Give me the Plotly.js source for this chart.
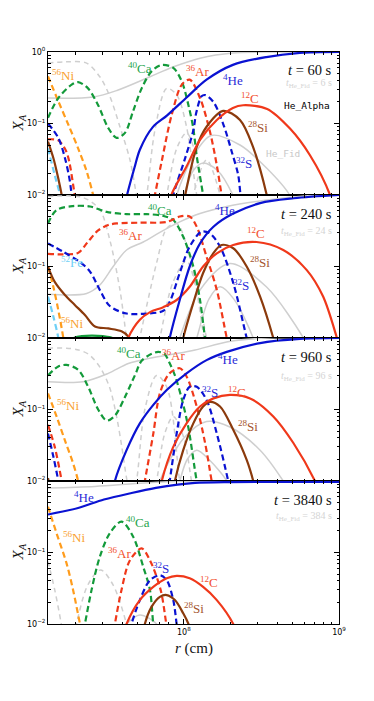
<!DOCTYPE html>
<html>
<head>
<meta charset="utf-8">
<script src="https://cdn.plot.ly/plotly-3.0.1.min.js"></script>
<style>
  html, body { margin: 0; padding: 0; background: #fff; }
  #plot { width: 374px; height: 701px; }
</style>
</head>
<body>
<div id="plot"></div>
<script>
// mass fractions X_A against radius r (cm), read off the four snapshots
// colour = He_Alpha run, grey = He_Fid run

// ---- t = 60 s ----
var r_He_60 = [4.0e7, 4.3e7, 4.8e7, 5.2e7, 6.3e7, 7.8e7, 1.05e8, 1.4e8, 2.07e8, 3.4e8, 5.6e8, 1e9];
var X_He_60 = [0.005, 0.01, 0.024, 0.043, 0.089, 0.13, 0.235, 0.41, 0.66, 0.85, 0.97, 1.0];
var r_C_60 = [7.8e7, 8.3e7, 1.04e8, 1.27e8, 1.63e8, 2.07e8, 2.41e8, 3.44e8, 4.83e8, 6.5e8, 8.75e8, 9.5e8];
var X_C_60 = [0.005, 0.01, 0.025, 0.059, 0.112, 0.165, 0.18, 0.16, 0.085, 0.036, 0.01, 0.005];
var r_Si_60 = [1.33e7, 1.44e7, 1.55e7, 1.63e7, 1.75e7, null, 9.5e7, 1.02e8, 1.21e8, 1.4e8, 1.79e8, 2.3e8, 2.79e8, 3.42e8, 3.7e8];
var X_Si_60 = [0.056, 0.033, 0.017, 0.01, 0.004, null, 0.004, 0.01, 0.047, 0.09, 0.15, 0.112, 0.047, 0.01, 0.004];
var r_Ca_60 = [1.33e7, 1.55e7, 1.89e7, 2.08e7, 2.41e7, 2.8e7, 3.25e7, 3.68e7, 4.17e7, 4.71e7, 5.34e7, 6.2e7, 7.19e7, 8.54e7, 9.68e7, 1.07e8, 1.15e8, 1.21e8, 1.33e8, 1.4e8];
var X_Ca_60 = [0.12, 0.227, 0.35, 0.38, 0.31, 0.18, 0.087, 0.063, 0.074, 0.15, 0.31, 0.54, 0.66, 0.6, 0.39, 0.18, 0.085, 0.035, 0.01, 0.005];
var r_Ni_60 = [1.33e7, 1.55e7, 1.8e7, 2.08e7, 2.36e7, 2.6e7, 2.8e7];
var X_Ni_60 = [0.457, 0.205, 0.096, 0.045, 0.0215, 0.01, 0.005];
var r_S_60 = [1.33e7, 1.55e7, 1.71e7, 1.84e7, 1.89e7, 2.0e7, null, 8.0e7, 8.54e7, 1.02e8, 1.15e8, 1.2e8, 1.3e8, 1.37e8, 1.55e8, 1.8e8, 2.03e8, 2.24e8, 2.32e8, 2.45e8];
var X_S_60 = [0.1, 0.063, 0.033, 0.0157, 0.01, 0.005, null, 0.005, 0.01, 0.033, 0.08, 0.14, 0.24, 0.25, 0.2, 0.096, 0.041, 0.019, 0.01, 0.005];
var r_Ar_60 = [1.33e7, 1.55e7, 1.75e7, 1.98e7, 2.1e7, null, 6.1e7, 6.5e7, 7.2e7, 8.35e7, 9.7e7, 1.09e8, 1.27e8, 1.47e8, 1.63e8, 1.75e8, 1.85e8];
var X_Ar_60 = [0.06, 0.058, 0.04, 0.01, 0.005, null, 0.005, 0.01, 0.03, 0.133, 0.35, 0.41, 0.227, 0.078, 0.026, 0.01, 0.005];
var r_Fe_60 = [1.33e7, 1.47e7, 1.59e7, 1.68e7];
var X_Fe_60 = [0.045, 0.019, 0.01, 0.005];
var r_gHe_60 = [1.33e7, 2.6e7, 3.7e7, 6.0e7, 8.5e7, 1.27e8, 2.07e8, 4e8, 1e9];
var X_gHe_60 = [0.227, 0.235, 0.29, 0.447, 0.617, 0.82, 0.97, 1.0, 1.0];
var r_gC_60 = [8.5e7, 9.0e7, 1.15e8, 1.5e8, 2.3e8, 3.4e8, 4.8e8, 5.2e8];
var X_gC_60 = [0.005, 0.01, 0.035, 0.068, 0.05, 0.024, 0.01, 0.006];
var r_gSi_60 = [9.5e7, 1.0e8, 1.15e8, 1.33e8, 1.65e8, 2.07e8, 2.2e8];
var X_gSi_60 = [0.006, 0.01, 0.022, 0.028, 0.022, 0.01, 0.007];
var r_gCa_60 = [1.33e7, 1.75e7, 2.36e7, 2.87e7, 3.33e7, 3.87e7, 4.49e7, 4.95e7, 5.3e7];
var X_gCa_60 = [0.7, 0.73, 0.7, 0.45, 0.24, 0.09, 0.031, 0.01, 0.005];
var r_gAr_60 = [5.4e7, 5.76e7, 6.5e7, 7.75e7, 9.0e7, 1.04e8, 1.21e8, 1.3e8];
var X_gAr_60 = [0.005, 0.01, 0.08, 0.31, 0.25, 0.09, 0.01, 0.005];
var r_gS_60 = [7.3e7, 7.75e7, 9.0e7, 1.04e8, 1.18e8, 1.33e8, 1.4e8];
var X_gS_60 = [0.005, 0.01, 0.045, 0.074, 0.04, 0.01, 0.005];
var r_gMg_60 = [1.1e8, 1.15e8, 1.4e8, 1.71e8, 1.8e8];
var X_gMg_60 = [0.005, 0.01, 0.031, 0.01, 0.005];

// ---- t = 240 s ----
var r_He_240 = [7.6e7, 8.1e7, 9.4e7, 1.09e8, 1.27e8, 1.55e8, 2.08e8, 3.1e8, 5.1e8, 1e9];
var X_He_240 = [0.005, 0.01, 0.034, 0.1, 0.21, 0.36, 0.55, 0.77, 0.9, 1.0];
var r_C_240 = [4.0e7, 4.37e7, 5.2e7, 6.05e7, 7.36e7, 8.98e7, 1.09e8, 1.33e8, 1.63e8, 2.08e8, 2.94e8, 4.37e8, 6.2e8, 7.9e8, 9.7e8, 1e9];
var X_C_240 = [0.005, 0.01, 0.018, 0.023, 0.027, 0.034, 0.052, 0.1, 0.153, 0.2, 0.22, 0.17, 0.089, 0.038, 0.01, 0.008];
var r_Si_240 = [1.33e7, 1.47e7, 1.71e7, 1.98e7, 2.3e7, 2.67e7, 3.25e7, 3.96e7, 4.37e7, 4.6e7, null, 9.3e7, 9.9e7, 1.15e8, 1.33e8, 1.55e8, 1.75e8, 2.08e8, 2.54e8, 3.1e8, 3.77e8, 4.0e8];
var X_Si_240 = [0.099, 0.061, 0.04, 0.029, 0.021, 0.0145, 0.0136, 0.0124, 0.0105, 0.006, null, 0.005, 0.01, 0.031, 0.081, 0.154, 0.2, 0.18, 0.1, 0.038, 0.01, 0.006];
var r_Ca_240 = [1.33e7, 1.51e7, 1.93e7, 2.48e7, 3.18e7, 4.27e7, 5.76e7, 7.36e7, 8.54e7, 9.9e7, 1.15e8, 1.27e8, 1.37e8, 1.45e8];
var X_Ca_240 = [0.4, 0.617, 0.7, 0.69, 0.58, 0.54, 0.54, 0.51, 0.447, 0.26, 0.1, 0.034, 0.01, 0.005];
var r_Ar_240 = [1.33e7, 1.75e7, 2.08e7, 2.4e7, 2.8e7, 3.25e7, 3.68e7, 5.2e7, 7.75e7, 9.4e7, 1.09e8, 1.21e8, 1.4e8, 1.63e8, 1.89e8, 2.0e8];
var X_Ar_240 = [0.15, 0.148, 0.155, 0.22, 0.32, 0.38, 0.4, 0.41, 0.42, 0.5, 0.5, 0.36, 0.137, 0.047, 0.01, 0.006];
var r_S_240 = [1.33e7, 1.67e7, 2.14e7, 2.48e7, 2.87e7, 3.33e7, 4.27e7, 5.76e7, 7.36e7, 8.1e7, 9.4e7, 1.09e8, 1.3e8, 1.47e8, 1.71e8, 2.08e8, 2.54e8, 2.7e8];
var X_S_240 = [0.21, 0.16, 0.115, 0.085, 0.047, 0.028, 0.022, 0.022, 0.024, 0.032, 0.081, 0.19, 0.307, 0.29, 0.19, 0.059, 0.01, 0.006];
var r_Ni_240 = [1.33e7, 1.44e7, 1.55e7, 1.67e7, 1.75e7];
var X_Ni_240 = [0.1, 0.052, 0.0245, 0.01, 0.005];
var r_Fe_240 = [1.33e7, 1.44e7, 1.55e7, 1.62e7];
var X_Fe_240 = [0.038, 0.02, 0.01, 0.005];
var r_O_240 = [1.8e7, 1.95e7, 2.2e7, 2.55e7, 3.0e7, 3.45e7, 3.6e7];
var X_O_240 = [0.009, 0.01, 0.0106, 0.0108, 0.0106, 0.01, 0.009];
var r_gHe_240 = [1.33e7, 2.36e7, 2.87e7, 3.5e7, 4.27e7, 5.47e7, 7.0e7, 9.4e7, 1.27e8, 1.89e8, 3.42e8, 6e8, 1e9];
var X_gHe_240 = [0.041, 0.042, 0.055, 0.1, 0.17, 0.22, 0.3, 0.42, 0.55, 0.69, 0.85, 0.97, 1.0];
var r_gC_240 = [8.8e7, 9.4e7, 1.27e8, 1.98e8, 3.4e8, 5.9e8, 6.4e8];
var X_gC_240 = [0.006, 0.01, 0.047, 0.11, 0.052, 0.01, 0.007];
var r_gSi_240 = [1.12e8, 1.21e8, 1.45e8, 1.71e8, 2.1e8, 2.8e8, 3.0e8];
var X_gSi_240 = [0.006, 0.01, 0.035, 0.052, 0.035, 0.01, 0.006];
var r_gCa_240 = [1.33e7, 2.24e7, 2.87e7, 3.33e7, 3.87e7, 4.27e7, 4.5e7];
var X_gCa_240 = [0.95, 0.92, 0.62, 0.235, 0.047, 0.01, 0.005];
var r_gAr_240 = [4.9e7, 5.2e7, 6.7e7, 7.75e7, 9.0e7, 1.04e8, 1.2e8, 1.35e8, 1.45e8];
var X_gAr_240 = [0.005, 0.01, 0.117, 0.34, 0.4, 0.2, 0.05, 0.01, 0.005];
var r_gS_240 = [6.5e7, 7.0e7, 8.5e7, 1.04e8, 1.2e8, 1.4e8, 1.5e8];
var X_gS_240 = [0.005, 0.01, 0.06, 0.12, 0.05, 0.01, 0.005];

// ---- t = 960 s ----
var r_He_960 = [3.4e7, 3.59e7, 4.27e7, 5.2e7, 6.35e7, 7.75e7, 1.04e8, 1.4e8, 1.89e8, 3.1e8, 5.6e8, 1e9];
var X_He_960 = [0.005, 0.01, 0.027, 0.064, 0.116, 0.187, 0.32, 0.49, 0.64, 0.85, 0.97, 1.0];
var r_C_960 = [6.8e7, 7.2e7, 8.54e7, 1.04e8, 1.27e8, 1.55e8, 1.98e8, 2.67e8, 3.77e8, 5.08e8, 7.0e8, 7.5e8];
var X_C_960 = [0.005, 0.01, 0.03, 0.064, 0.11, 0.143, 0.16, 0.143, 0.08, 0.034, 0.01, 0.007];
var r_Si_960 = [1.33e7, 1.36e7, null, 8.3e7, 8.75e7, 9.9e7, 1.15e8, 1.33e8, 1.47e8, 1.71e8, 2.08e8, 2.54e8, 2.8e8, 2.95e8];
var X_Si_960 = [0.011, 0.008, null, 0.005, 0.01, 0.027, 0.064, 0.11, 0.128, 0.11, 0.052, 0.0197, 0.01, 0.006];
var r_Ca_960 = [1.33e7, 1.55e7, 1.75e7, 2.08e7, 2.41e7, 2.8e7, 3.18e7, 3.59e7, 4.17e7, 4.83e7, 5.34e7, 6.2e7, 6.84e7, 7.5e7, 8.07e7, 8.75e7, 9.7e7, 1.07e8, 1.21e8, 1.3e8];
var X_Ca_960 = [0.3, 0.4, 0.42, 0.36, 0.21, 0.1, 0.07, 0.082, 0.15, 0.3, 0.48, 0.6, 0.64, 0.6, 0.45, 0.3, 0.14, 0.055, 0.01, 0.005];
var r_Ar_960 = [1.33e7, 1.47e7, 1.63e7, 1.72e7, null, 5.3e7, 5.6e7, 6.35e7, 7.0e7, 8.07e7, 9.4e7, 1.04e8, 1.21e8, 1.37e8, 1.51e8, 1.6e8];
var X_Ar_960 = [0.061, 0.03, 0.01, 0.005, null, 0.005, 0.01, 0.046, 0.168, 0.32, 0.377, 0.29, 0.11, 0.034, 0.01, 0.005];
var r_S_960 = [1.33e7, 1.44e7, 1.55e7, 1.63e7, null, 7.7e7, 8.1e7, 8.98e7, 9.9e7, 1.09e8, 1.21e8, 1.4e8, 1.63e8, 1.93e8, 2.05e8];
var X_S_960 = [0.046, 0.022, 0.01, 0.005, null, 0.005, 0.01, 0.046, 0.136, 0.208, 0.208, 0.136, 0.046, 0.01, 0.005];
var r_Ni_960 = [1.33e7, 1.51e7, 1.71e7, 1.93e7, 2.08e7, 2.2e7];
var X_Ni_960 = [0.168, 0.08, 0.037, 0.0177, 0.01, 0.005];
var r_Fe_960 = [1.33e7, 1.38e7];
var X_Fe_960 = [0.011, 0.007];
var r_gHe_960 = [1.33e7, 2.24e7, 3.25e7, 4.38e7, 6.0e7, 9.2e7, 1.18e8, 2.0e8, 3.5e8, 1e9];
var X_gHe_960 = [0.245, 0.245, 0.32, 0.44, 0.52, 0.61, 0.68, 0.9, 1.0, 1.0];
var r_gC_960 = [6.6e7, 7.0e7, 1.0e8, 1.4e8, 1.98e8, 3.1e8, 4.37e8, 4.8e8];
var X_gC_960 = [0.006, 0.01, 0.04, 0.068, 0.057, 0.027, 0.01, 0.007];
var r_gSi_960 = [8.8e7, 9.4e7, 1.05e8, 1.21e8, 1.45e8, 1.89e8, 2.0e8];
var X_gSi_960 = [0.006, 0.01, 0.02, 0.027, 0.02, 0.01, 0.007];
var r_gCa_960 = [1.33e7, 1.75e7, 2.1e7, 2.46e7, 2.9e7, 3.33e7, 3.68e7, 3.96e7, 4.3e7, 4.6e7];
var X_gCa_960 = [0.72, 0.72, 0.68, 0.58, 0.38, 0.2, 0.08, 0.032, 0.01, 0.005];
var r_gAr_960 = [4.6e7, 4.95e7, 5.6e7, 6.67e7, 7.8e7, 9.4e7, 1.0e8];
var X_gAr_960 = [0.005, 0.01, 0.1, 0.3, 0.2, 0.01, 0.005];
var r_gS_960 = [6.2e7, 6.67e7, 7.5e7, 8.54e7, 1.0e8, 1.12e8, 1.2e8];
var X_gS_960 = [0.005, 0.01, 0.045, 0.08, 0.04, 0.01, 0.005];

// ---- t = 3840 s ----
var r_He_3840 = [1.33e7, 2.08e7, 3.05e7, 4.6e7, 6.6e7, 9.1e7, 1.18e8, 2.0e8, 4e8, 1e9];
var X_He_3840 = [0.34, 0.42, 0.55, 0.68, 0.8, 0.89, 0.94, 0.965, 0.975, 0.975];
var r_C_3840 = [4.0e7, 4.27e7, 5.2e7, 6.35e7, 7.75e7, 8.98e7, 1.09e8, 1.33e8, 1.63e8, 2.08e8, 2.2e8];
var X_C_3840 = [0.006, 0.01, 0.0216, 0.033, 0.0435, 0.047, 0.0435, 0.033, 0.0216, 0.01, 0.007];
var r_Si_3840 = [5.4e7, 5.6e7, 6.2e7, 7.0e7, 7.75e7, 8.75e7, 9.9e7, 1.07e8, 1.12e8];
var X_Si_3840 = [0.006, 0.01, 0.0175, 0.024, 0.0254, 0.0216, 0.0141, 0.01, 0.007];
var r_Ca_3840 = [2.2e7, 2.3e7, 2.54e7, 2.87e7, 3.33e7, 3.96e7, 4.71e7, 5.47e7, 6.04e7, 6.35e7, 6.6e7];
var X_Ca_3840 = [0.006, 0.01, 0.03, 0.087, 0.186, 0.27, 0.166, 0.063, 0.03, 0.01, 0.006];
var r_Ar_3840 = [3.45e7, 3.59e7, 3.96e7, 4.49e7, 5.34e7, 6.04e7, 7.08e7, 7.7e7, 8.0e7];
var X_Ar_3840 = [0.006, 0.01, 0.03, 0.078, 0.114, 0.078, 0.03, 0.01, 0.006];
var r_S_3840 = [4.4e7, 4.6e7, 5.2e7, 6.04e7, 7.0e7, 7.75e7, 8.54e7, 8.98e7, 9.3e7];
var X_S_3840 = [0.006, 0.01, 0.0216, 0.041, 0.048, 0.041, 0.0216, 0.01, 0.006];
var r_Ni_3840 = [1.33e7, 1.51e7, 1.75e7, 1.93e7, 2.14e7, 2.3e7];
var X_Ni_3840 = [0.437, 0.186, 0.071, 0.03, 0.01, 0.005];
var r_gHe_3840 = [1.33e7, 2.67e7, 5.6e7, 1.0e8, 1e9];
var X_gHe_3840 = [0.8, 0.84, 0.94, 0.99, 1.0];
var r_gCa_3840 = [1.33e7, 1.47e7, 1.62e7, 1.7e7];
var X_gCa_3840 = [0.075, 0.03, 0.01, 0.005];
var r_gAr_3840 = [1.9e7, 2.03e7, 2.4e7, 2.9e7, 3.5e7, 4.27e7, 4.6e7];
var X_gAr_3840 = [0.005, 0.01, 0.035, 0.057, 0.035, 0.01, 0.005];
var r_gSi_3840 = [4.0e7, 4.27e7, 5.2e7, 6.67e7, 7.0e7];
var X_gSi_3840 = [0.008, 0.01, 0.0134, 0.01, 0.008];

var times = [60, 240, 960, 3840];
var fidTimes = [6, 24, 96, 384];

// tick positions
var xMinor = [2e7, 3e7, 4e7, 5e7, 6e7, 7e7, 8e7, 9e7, 2e8, 3e8, 4e8, 5e8, 6e8, 7e8, 8e8, 9e8];
var yMinor = [0.02, 0.03, 0.04, 0.05, 0.06, 0.07, 0.08, 0.09, 0.2, 0.3, 0.4, 0.5, 0.6, 0.7, 0.8, 0.9];

// colours
var BLUE = '#0a12d2', RED = '#f0381a', BROWN = '#8b3a0c', GREEN = '#139a3a',
    ORANGE = '#ff9c1c', CYAN = '#6fd0f6', GREY = '#cfcfcf';
var DASH = '6px,3.5px', GDASH = '5px,4px';

var traces = [];
function add(k, r, X, color, width, dash) {
  var s = k === 1 ? '' : String(k);
  traces.push({
    x: r, y: X, xaxis: 'x' + s, yaxis: 'y' + s,
    type: 'scatter', mode: 'lines',
    line: {color: color, width: width, dash: dash, shape: 'spline', smoothing: 0.9},
    hoverinfo: 'skip', showlegend: false
  });
}

// panel 1
add(1, r_gHe_60, X_gHe_60, GREY, 1.5, 'solid');
add(1, r_gC_60, X_gC_60, GREY, 1.5, 'solid');
add(1, r_gSi_60, X_gSi_60, GREY, 1.5, 'solid');
add(1, r_gCa_60, X_gCa_60, GREY, 1.5, GDASH);
add(1, r_gAr_60, X_gAr_60, GREY, 1.5, GDASH);
add(1, r_gS_60, X_gS_60, GREY, 1.5, GDASH);
add(1, r_gMg_60, X_gMg_60, GREY, 1.5, GDASH);
add(1, r_Fe_60, X_Fe_60, CYAN, 2.2, DASH);
add(1, r_Ni_60, X_Ni_60, ORANGE, 2.2, DASH);
add(1, r_Ca_60, X_Ca_60, GREEN, 2.2, DASH);
add(1, r_Ar_60, X_Ar_60, RED, 2.2, DASH);
add(1, r_S_60, X_S_60, BLUE, 2.2, DASH);
add(1, r_Si_60, X_Si_60, BROWN, 2.2, 'solid');
add(1, r_C_60, X_C_60, RED, 2.2, 'solid');
add(1, r_He_60, X_He_60, BLUE, 2.2, 'solid');

// panel 2
add(2, r_gHe_240, X_gHe_240, GREY, 1.5, 'solid');
add(2, r_gC_240, X_gC_240, GREY, 1.5, 'solid');
add(2, r_gSi_240, X_gSi_240, GREY, 1.5, 'solid');
add(2, r_gCa_240, X_gCa_240, GREY, 1.5, GDASH);
add(2, r_gAr_240, X_gAr_240, GREY, 1.5, GDASH);
add(2, r_gS_240, X_gS_240, GREY, 1.5, GDASH);
add(2, r_Fe_240, X_Fe_240, CYAN, 2.2, DASH);
add(2, r_Ni_240, X_Ni_240, ORANGE, 2.2, DASH);
add(2, r_O_240, X_O_240, GREEN, 2.2, 'solid');
add(2, r_Ca_240, X_Ca_240, GREEN, 2.2, DASH);
add(2, r_Ar_240, X_Ar_240, RED, 2.2, DASH);
add(2, r_S_240, X_S_240, BLUE, 2.2, DASH);
add(2, r_Si_240, X_Si_240, BROWN, 2.2, 'solid');
add(2, r_C_240, X_C_240, RED, 2.2, 'solid');
add(2, r_He_240, X_He_240, BLUE, 2.2, 'solid');

// panel 3
add(3, r_gHe_960, X_gHe_960, GREY, 1.5, 'solid');
add(3, r_gC_960, X_gC_960, GREY, 1.5, 'solid');
add(3, r_gSi_960, X_gSi_960, GREY, 1.5, 'solid');
add(3, r_gCa_960, X_gCa_960, GREY, 1.5, GDASH);
add(3, r_gAr_960, X_gAr_960, GREY, 1.5, GDASH);
add(3, r_gS_960, X_gS_960, GREY, 1.5, GDASH);
add(3, r_Fe_960, X_Fe_960, CYAN, 2.2, DASH);
add(3, r_Ni_960, X_Ni_960, ORANGE, 2.2, DASH);
add(3, r_Ca_960, X_Ca_960, GREEN, 2.2, DASH);
add(3, r_Ar_960, X_Ar_960, RED, 2.2, DASH);
add(3, r_S_960, X_S_960, BLUE, 2.2, DASH);
add(3, r_Si_960, X_Si_960, BROWN, 2.2, 'solid');
add(3, r_C_960, X_C_960, RED, 2.2, 'solid');
add(3, r_He_960, X_He_960, BLUE, 2.2, 'solid');

// panel 4
add(4, r_gHe_3840, X_gHe_3840, GREY, 1.5, 'solid');
add(4, r_gSi_3840, X_gSi_3840, GREY, 1.5, 'solid');
add(4, r_gCa_3840, X_gCa_3840, GREY, 1.5, GDASH);
add(4, r_gAr_3840, X_gAr_3840, GREY, 1.5, GDASH);
add(4, r_Ni_3840, X_Ni_3840, ORANGE, 2.2, DASH);
add(4, r_Ca_3840, X_Ca_3840, GREEN, 2.2, DASH);
add(4, r_Ar_3840, X_Ar_3840, RED, 2.2, DASH);
add(4, r_S_3840, X_S_3840, BLUE, 2.2, DASH);
add(4, r_Si_3840, X_Si_3840, BROWN, 2.2, 'solid');
add(4, r_C_3840, X_C_3840, RED, 2.2, 'solid');
add(4, r_He_3840, X_He_3840, BLUE, 2.2, 'solid');

// axes
var SERIF = 'Liberation Serif, DejaVu Serif, serif';
function xAx(k) {
  return {
    type: 'log', range: [Math.log10(1.33e7), 9], anchor: k === 1 ? 'y' : 'y' + k,
    matches: k === 1 ? undefined : 'x',
    showline: true, linecolor: '#000', linewidth: 1, mirror: 'allticks',
    ticks: 'inside', ticklen: 5, tickcolor: '#000', tickwidth: 1,
    tickmode: 'array', tickvals: [1e8, 1e9],
    ticktext: ['10<sup>8</sup>', '10<sup>9</sup>'],
    showticklabels: k === 4,
    tickfont: {family: 'DejaVu Sans', size: 8, color: '#000'},
    minor: {ticks: 'inside', ticklen: 2.5, tickcolor: '#000', tickmode: 'array', tickvals: xMinor},
    showgrid: false, zeroline: false
  };
}
function yAx(k) {
  var d = [[0.75, 1], [0.5, 0.75], [0.25, 0.5], [0, 0.25]][k - 1];
  return {
    type: 'log', range: [-2, 0], domain: d, anchor: k === 1 ? 'x' : 'x' + k,
    showline: true, linecolor: '#000', linewidth: 1, mirror: 'allticks',
    ticks: 'inside', ticklen: 5, tickcolor: '#000', tickwidth: 1,
    tickmode: 'array', tickvals: [1, 0.1, 0.01],
    ticktext: [k === 1 ? '10<sup>0</sup>' : '', '10<sup>\u22121</sup>', '10<sup>\u22122</sup>'],
    tickfont: {family: 'DejaVu Sans', size: 8, color: '#000'},
    minor: {ticks: 'inside', ticklen: 2.5, tickcolor: '#000', tickmode: 'array', tickvals: yMinor},
    showgrid: false, zeroline: false
  };
}

var ann = [];
function lab(text, x, y, color, size, anchor, family) {
  ann.push({
    text: text, x: x, y: y, xref: 'paper', yref: 'paper',
    xanchor: anchor || 'center', yanchor: 'middle', showarrow: false,
    font: {family: family || SERIF, size: size || 13, color: color}
  });
}
function iso(a, el) { return '<sup>' + a + '</sup>' + el; }

var LBLUE = '#2a2ad8', LRED = '#f2502e', LBROWN = '#a4552e', LGREEN = '#25a44c',
    LORANGE = '#f9a233', LGREY = '#d4d4d4';

// panel 1 labels
lab(iso(56, 'Ni'), 0.052, 0.96, LORANGE);
lab(iso(40, 'Ca'), 0.316, 0.972, LGREEN);
lab(iso(36, 'Ar'), 0.515, 0.967, LRED);
lab(iso(4, 'He'), 0.636, 0.951, LBLUE);
lab(iso(12, 'C'), 0.694, 0.92, LRED);
lab(iso(28, 'Si'), 0.722, 0.869, LBROWN);
lab(iso(32, 'S'), 0.674, 0.806, LBLUE);
lab('He_Alpha', 0.976, 0.907, '#000', 9.5, 'right', 'DejaVu Sans Mono');
lab('He_Fid', 0.808, 0.822, '#c8c8c8', 9.5, 'center', 'DejaVu Sans Mono');

// panel 2 labels
lab(iso(40, 'Ca'), 0.385, 0.724, LGREEN);
lab(iso(36, 'Ar'), 0.285, 0.68, LRED);
lab(iso(4, 'He'), 0.608, 0.724, LBLUE);
lab(iso(12, 'C'), 0.715, 0.684, LRED);
lab(iso(28, 'Si'), 0.729, 0.633, LBROWN);
lab(iso(32, 'S'), 0.663, 0.593, LBLUE);
lab(iso(56, 'Ni'), 0.082, 0.526, LORANGE);
lab(iso(52, 'Fe'), 0.082, 0.633, CYAN);

// panel 3 labels
lab(iso(40, 'Ca'), 0.278, 0.474, LGREEN);
lab(iso(36, 'Ar'), 0.43, 0.47, LRED);
lab(iso(4, 'He'), 0.619, 0.463, LBLUE);
lab(iso(32, 'S'), 0.557, 0.406, LBLUE);
lab(iso(12, 'C'), 0.649, 0.406, LRED);
lab(iso(28, 'Si'), 0.687, 0.346, LBROWN);
lab(iso(56, 'Ni'), 0.069, 0.383, LORANGE);

// panel 4 labels
lab(iso(4, 'He'), 0.124, 0.222, LBLUE);
lab(iso(40, 'Ca'), 0.309, 0.178, LGREEN);
lab(iso(56, 'Ni'), 0.089, 0.152, LORANGE);
lab(iso(36, 'Ar'), 0.247, 0.124, LRED);
lab(iso(32, 'S'), 0.388, 0.098, LBLUE);
lab(iso(12, 'C'), 0.553, 0.073, LRED);
lab(iso(28, 'Si'), 0.502, 0.028, LBROWN);

// time stamps and y titles
var tY = [0.969, 0.717, 0.467, 0.217];
var fY = [0.945, 0.687, 0.433, 0.188];
var pMid = [0.875, 0.625, 0.375, 0.125];
for (var i = 0; i < 4; i++) {
  lab('<i>t</i> = ' + times[i] + ' s', 0.982, tY[i], '#111', 14.5, 'right');
  lab('<i>t</i><sub>He_Fid</sub> = ' + fidTimes[i] + ' s', 0.982, fY[i], LGREY, 10, 'right');
  ann.push({
    text: '<i>X<sub>A</sub></i>', x: -0.103, y: pMid[i], xref: 'paper', yref: 'paper',
    textangle: -90, showarrow: false, xanchor: 'center', yanchor: 'middle',
    font: {family: SERIF, size: 15, color: '#111'}
  });
}
ann.push({
  text: '<i>r</i> (cm)', x: 0.5, y: -0.042, xref: 'paper', yref: 'paper',
  showarrow: false, xanchor: 'center', yanchor: 'middle',
  font: {family: SERIF, size: 15, color: '#111'}
});

var layout = {
  width: 374, height: 701,
  margin: {l: 48, r: 35, t: 52, b: 77},
  paper_bgcolor: '#fff', plot_bgcolor: '#fff',
  showlegend: false,
  xaxis: xAx(1), xaxis2: xAx(2), xaxis3: xAx(3), xaxis4: xAx(4),
  yaxis: yAx(1), yaxis2: yAx(2), yaxis3: yAx(3), yaxis4: yAx(4),
  annotations: ann
};

Plotly.newPlot('plot', traces, layout, {staticPlot: true, displayModeBar: false});
</script>
</body>
</html>
